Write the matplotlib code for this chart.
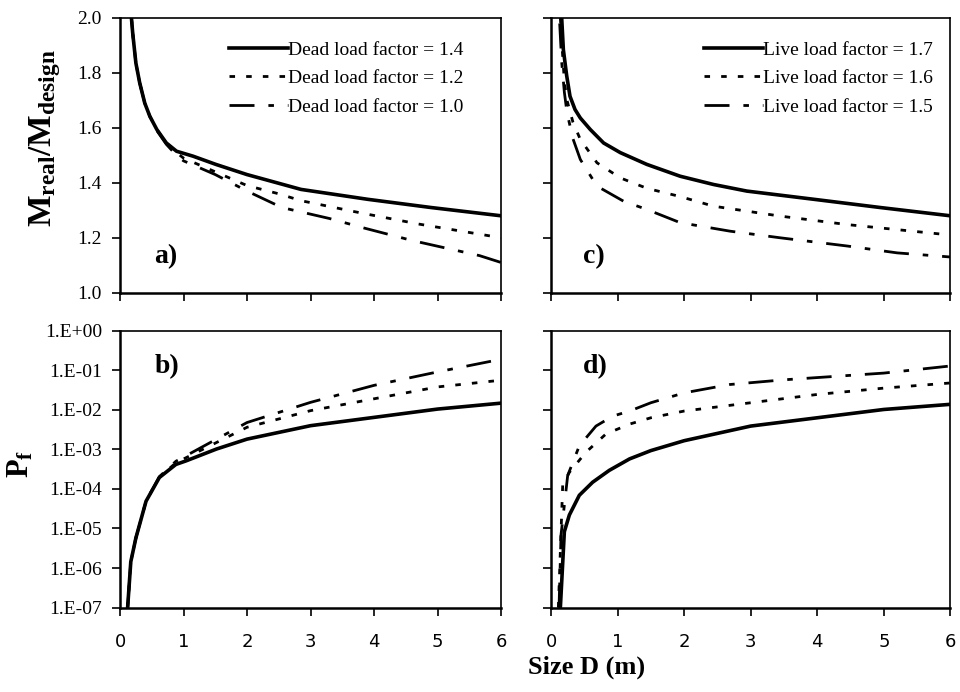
import numpy as np
import matplotlib
matplotlib.use('Agg')
import matplotlib.pyplot as plt

plt.rcParams['font.family'] = ['Liberation Serif', 'DejaVu Serif']
plt.rcParams['mathtext.fontset'] = 'custom'
plt.rcParams['mathtext.rm'] = 'Liberation Serif'
plt.rcParams['mathtext.bf'] = 'Liberation Serif:bold'

# panel a) dead load factor, M_real/M_design vs D
a_d14_x = [0.18, 0.2, 0.25, 0.31, 0.39, 0.47, 0.58, 0.73, 0.89, 1.15, 1.51, 2.0, 2.85, 3.9, 4.9, 6.0]
a_d14_y = [2.0, 1.945, 1.836, 1.764, 1.69, 1.642, 1.594, 1.545, 1.515, 1.497, 1.467, 1.43, 1.376, 1.34, 1.31, 1.28]
a_d12_x = [0.18, 0.2, 0.25, 0.31, 0.39, 0.47, 0.58, 0.73, 0.89, 1.0, 1.5, 2.0, 2.5, 2.85, 3.8, 4.7, 6.0]
a_d12_y = [2.0, 1.945, 1.836, 1.764, 1.69, 1.642, 1.594, 1.545, 1.51, 1.49, 1.44, 1.39, 1.36, 1.335, 1.29, 1.25, 1.20]
a_d10_x = [0.18, 0.2, 0.25, 0.31, 0.39, 0.47, 0.58, 0.73, 0.89, 1.0, 1.5, 2.0, 2.55, 3.3, 3.85, 4.6, 5.66, 6.0]
a_d10_y = [2.0, 1.945, 1.836, 1.764, 1.69, 1.642, 1.59, 1.54, 1.50, 1.48, 1.43, 1.37, 1.31, 1.27, 1.235, 1.19, 1.135, 1.11]

# panel c) live load factor
c_l17_x = [0.16, 0.185, 0.235, 0.285, 0.36, 0.44, 0.59, 0.79, 1.04, 1.44, 1.94, 2.44, 2.94, 3.95, 4.95, 6.0]
c_l17_y = [2.0, 1.885, 1.79, 1.715, 1.667, 1.636, 1.594, 1.545, 1.51, 1.467, 1.424, 1.394, 1.37, 1.34, 1.31, 1.28]
c_l16_x = [0.14, 0.17, 0.2, 0.24, 0.33, 0.44, 0.69, 1.04, 1.44, 1.94, 2.44, 3.44, 4.45, 6.0]
c_l16_y = [2.0, 1.88, 1.77, 1.70, 1.62, 1.558, 1.473, 1.418, 1.38, 1.35, 1.315, 1.279, 1.248, 1.21]
c_l15_x = [0.13, 0.16, 0.2, 0.24, 0.33, 0.44, 0.69, 1.09, 1.44, 1.94, 2.69, 3.44, 4.45, 5.2, 6.0]
c_l15_y = [1.98, 1.84, 1.73, 1.655, 1.56, 1.485, 1.388, 1.333, 1.303, 1.255, 1.224, 1.20, 1.17, 1.145, 1.13]

# panel b) log10(Pf), dead load factor
b_d14_x = [0.12, 0.17, 0.25, 0.41, 0.62, 0.88, 1.04, 1.52, 2.0, 3.0, 4.0, 5.0, 6.0]
b_d14_y = [-7.0, -5.84, -5.24, -4.31, -3.71, -3.38, -3.29, -2.99, -2.74, -2.40, -2.19, -1.98, -1.83]
b_d12_x = [0.12, 0.17, 0.25, 0.41, 0.62, 0.88, 1.04, 2.0, 3.0, 4.0, 5.0, 6.0]
b_d12_y = [-7.0, -5.84, -5.24, -4.31, -3.70, -3.34, -3.21, -2.44, -2.02, -1.72, -1.42, -1.25]
b_d10_x = [0.12, 0.17, 0.25, 0.41, 0.62, 0.88, 1.04, 2.0, 3.0, 4.0, 5.0, 6.0]
b_d10_y = [-7.0, -5.84, -5.24, -4.31, -3.69, -3.30, -3.16, -2.32, -1.81, -1.38, -1.04, -0.72]

# panel d) log10(Pf), live load factor
d_l17_x = [0.14, 0.2, 0.275, 0.425, 0.625, 0.875, 1.18, 1.5, 2.0, 3.0, 4.0, 5.0, 6.0]
d_l17_y = [-7.0, -5.08, -4.66, -4.16, -3.83, -3.53, -3.24, -3.03, -2.78, -2.41, -2.20, -1.99, -1.86]
d_l16_x = [0.11, 0.175, 0.275, 0.525, 0.825, 1.18, 1.5, 2.0, 3.0, 4.0, 5.0, 6.0]
d_l16_y = [-7.0, -3.91, -3.58, -3.07, -2.61, -2.36, -2.20, -2.03, -1.82, -1.61, -1.45, -1.32]
d_l15_x = [0.12, 0.15, 0.25, 0.425, 0.675, 0.925, 1.18, 1.5, 2.0, 2.68, 3.5, 5.0, 6.0]
d_l15_y = [-7.0, -5.16, -3.66, -2.91, -2.41, -2.16, -2.03, -1.82, -1.57, -1.36, -1.24, -1.07, -0.89]

dead_labels = ['Dead load factor = 1.4', 'Dead load factor = 1.2', 'Dead load factor = 1.0']
live_labels = ['Live load factor = 1.7', 'Live load factor = 1.6', 'Live load factor = 1.5']
log_ticks = [1e-7, 1e-6, 1e-5, 1e-4, 1e-3, 1e-2, 1e-1, 1e0]
log_labels = ['1.E-07', '1.E-06', '1.E-05', '1.E-04', '1.E-03', '1.E-02', '1.E-01', '1.E+00']

styles = [dict(color='black', lw=2.6, linestyle='-'),
          dict(color='black', lw=2.0, linestyle=(0, (2, 4))),
          dict(color='black', lw=2.0, linestyle=(0, (9, 5, 2, 5)))]

fig = plt.figure(figsize=(9.6, 6.92), dpi=100)
ax_a = fig.add_axes([0.125, 0.577, 0.397, 0.397])
ax_c = fig.add_axes([0.574, 0.577, 0.416, 0.397])
ax_b = fig.add_axes([0.125, 0.122, 0.397, 0.400])
ax_d = fig.add_axes([0.574, 0.122, 0.416, 0.400])

for ax, series, labels, anchor in [
        (ax_a, [(a_d14_x, a_d14_y), (a_d12_x, a_d12_y), (a_d10_x, a_d10_y)], dead_labels, (0.90, 0.915)),
        (ax_c, [(c_l17_x, c_l17_y), (c_l16_x, c_l16_y), (c_l15_x, c_l15_y)], live_labels, (0.955, 0.915))]:
    for (x, y), st, lab in zip(series, styles, labels):
        ax.plot(x, y, label=lab, **st)
    ax.set_ylim(1.0, 2.0)
    ax.set_yticks(np.arange(1.0, 2.01, 0.2))
    ax.legend(loc='upper right', bbox_to_anchor=anchor, frameon=False, fontsize=14,
              handlelength=3.0, handletextpad=0.0, labelspacing=0.55,
              borderpad=0.0, borderaxespad=0.0)

for ax, series in [
        (ax_b, [(b_d14_x, b_d14_y), (b_d12_x, b_d12_y), (b_d10_x, b_d10_y)]),
        (ax_d, [(d_l17_x, d_l17_y), (d_l16_x, d_l16_y), (d_l15_x, d_l15_y)])]:
    for (x, y), st in zip(series, styles):
        ax.plot(x, 10.0 ** np.array(y), **st)
    ax.set_yscale('log')
    ax.set_ylim(1e-7, 1e0)
    ax.set_yticks(log_ticks)
    ax.minorticks_off()

for ax in [ax_a, ax_b, ax_c, ax_d]:
    ax.set_xlim(0, 6)
    ax.set_xticks(range(7))
    ax.tick_params(direction='out', length=6, width=1.2, labelsize=14, pad=7)
    for s in ax.spines.values():
        s.set_linewidth(1.2)
    ax.spines['bottom'].set_linewidth(1.8)
    ax.spines['left'].set_linewidth(1.8)

ax_a.set_yticklabels(['%.1f' % v for v in np.arange(1.0, 2.01, 0.2)])
ax_b.set_yticklabels(log_labels)
ax_a.set_xticklabels([])
ax_c.set_xticklabels([])
ax_c.set_yticklabels([])
ax_d.set_yticklabels([])
for ax in [ax_b, ax_d]:
    ax.set_xticklabels([str(i) for i in range(7)], family='DejaVu Sans', fontsize=13)
    ax.tick_params(axis='x', pad=12)

for ax, lab, pos in [(ax_a, 'a)', (0.09, 0.13)), (ax_c, 'c)', (0.08, 0.13)),
                     (ax_b, 'b)', (0.09, 0.87)), (ax_d, 'd)', (0.08, 0.87))]:
    ax.text(pos[0], pos[1], lab, transform=ax.transAxes, fontsize=20,
            fontweight='bold', ha='left', va='center')

fig.text(0.047, 0.80, r'$\mathbf{M_{real}/M_{design}}$', rotation=90,
         ha='center', va='center', fontsize=24)
fig.text(0.022, 0.33, r'$\mathbf{P_f}$', rotation=90, ha='center', va='center', fontsize=22)
fig.text(0.611, 0.035, 'Size D (m)', ha='center', va='center', fontsize=19, fontweight='bold')

fig.savefig('out.png', dpi=100)
